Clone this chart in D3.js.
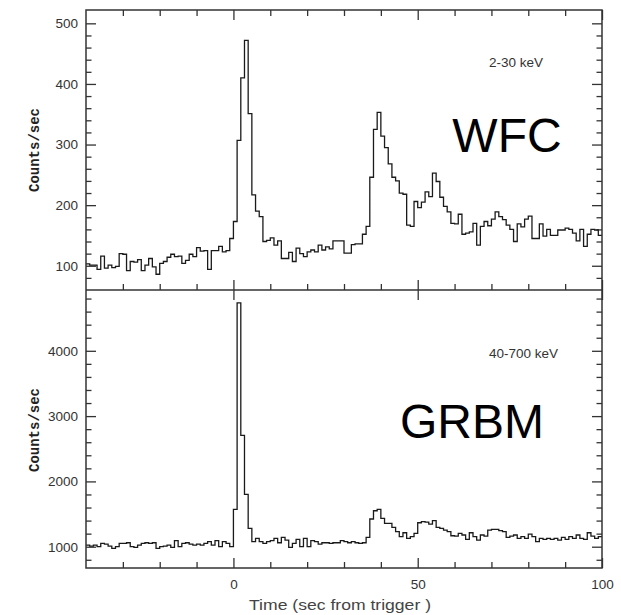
<!DOCTYPE html>
<html><head><meta charset="utf-8">
<script src="https://cdn.jsdelivr.net/npm/d3@7"></script>
<style>body{margin:0;background:#fff}svg{display:block}</style>
</head><body><svg id="c" width="621" height="615"></svg>
<script>
// ---- data ----
const binStart = -40;   // seconds from trigger (first bin)
const binWidth = 1;     // seconds per bin
const wfcCounts = [
  103,101,101,94,116,96,101,97,99,120,
  119,92,107,106,110,92,101,112,98,86,
  104,107,114,119,115,116,104,109,119,115,
  130,124,125,94,125,125,132,123,125,145,
  173,307,410,472,351,217,190,181,140,142,
  146,134,141,112,112,122,107,129,120,115,
  123,126,123,134,126,131,128,141,141,141,
  121,121,135,136,136,152,165,246,325,353,
  314,295,268,246,240,220,218,167,165,206,
  196,205,222,214,253,239,213,198,189,170,
  169,185,152,154,156,170,134,165,173,166,
  177,189,181,176,167,160,140,169,164,177,
  182,145,145,169,149,160,150,150,159,159,
  162,160,154,141,160,132,152,160,159,150
];
const grbmCounts = [
  1025,1010,1025,1000,1051,1041,1010,975,1000,1051,
  1051,1061,1000,990,1025,1051,1061,1051,1061,975,
  1000,1010,1025,990,1092,1000,1051,1061,1041,1025,
  1041,1025,1051,1077,1025,1092,1000,1077,1051,1000,
  1572,4735,2705,1802,1281,1077,1128,1077,1051,1077,
  1092,1128,1061,1143,1102,990,1051,1112,1000,1128,
  1000,1092,1077,1041,1061,1061,1051,1061,1061,1092,
  1077,1061,1077,1061,1051,1061,1143,1424,1551,1572,
  1434,1357,1357,1296,1230,1153,1214,1128,1153,1204,
  1367,1383,1377,1347,1398,1296,1281,1255,1230,1168,
  1163,1204,1179,1112,1214,1153,1102,1179,1163,1255,
  1265,1265,1245,1230,1143,1163,1179,1128,1153,1128,
  1194,1153,1077,1128,1112,1128,1112,1128,1102,1143,
  1112,1153,1128,1179,1128,1112,1214,1163,1128,1153
];
const timeDomain = [-40, 100];
const wfcDomain = [60, 522];
const grbmDomain = [674, 4931];
const xMajorTicks = [0, 50, 100];
const xMinorTicks = [-30, -20, -10, 10, 20, 30, 40, 60, 70, 80, 90];
const wfcMajorTicks = [100, 200, 300, 400, 500];
const wfcMinorTicks = [80, 120, 140, 160, 180, 220, 240, 260, 280, 320, 340, 360, 380, 420, 440, 460, 480];
const grbmMajorTicks = [1000, 2000, 3000, 4000];
const grbmMinorTicks = [800, 1200, 1400, 1600, 1800, 2200, 2400, 2600, 2800, 3200, 3400, 3600, 3800, 4200, 4400, 4600, 4800];
const yTitle = "Counts/sec";
const xTitle = "Time (sec from trigger )";
const bandLabels = ["2-30 keV", "40-700 keV"];
const instrumentLabels = ["WFC", "GRBM"];

// ---- layout ----
const L = 86, R = 602, T = 10, M = 290, B = 568;
const ink = "#333";
const svg = d3.select("#c");
svg.append("rect").attr("width", 621).attr("height", 615).attr("fill", "#fff");

const x = d3.scaleLinear().domain(timeDomain).range([L, R]);
const yTop = d3.scaleLinear().domain(wfcDomain).range([M, T]);
const yBot = d3.scaleLinear().domain(grbmDomain).range([B, M]);

const sans = "'Liberation Sans', Arial, Helvetica, sans-serif";

function styleAxis(g) {
  g.select(".domain").remove();
  g.selectAll(".tick line").attr("stroke", ink).attr("stroke-width", 1.3);
  g.selectAll(".tick text").attr("fill", ink).attr("font-family", sans).attr("font-size", 13.5);
}

function panel(y, major, minor, top, bottom, counts, yTitleY, band, bandY, inst, instX, instY, topMinor) {
  // left
  svg.append("g").attr("transform", `translate(${L},0)`)
    .call(d3.axisLeft(y).tickValues(major).tickSizeInner(-10).tickSizeOuter(0).tickPadding(8).tickFormat(d3.format("d")))
    .call(styleAxis);
  svg.append("g").attr("transform", `translate(${L},0)`)
    .call(d3.axisLeft(y).tickValues(minor).tickSizeInner(-5.5).tickSizeOuter(0).tickFormat(""))
    .call(styleAxis);
  // right
  svg.append("g").attr("transform", `translate(${R},0)`)
    .call(d3.axisRight(y).tickValues(major).tickSizeInner(-10).tickSizeOuter(0).tickFormat(""))
    .call(styleAxis);
  svg.append("g").attr("transform", `translate(${R},0)`)
    .call(d3.axisRight(y).tickValues(minor).tickSizeInner(-5.5).tickSizeOuter(0).tickFormat(""))
    .call(styleAxis);
  // top edge (ticks pointing down)
  svg.append("g").attr("transform", `translate(0,${top})`)
    .call(d3.axisTop(x).tickValues(xMajorTicks).tickSizeInner(-10).tickSizeOuter(0).tickFormat(""))
    .call(styleAxis);
  if (topMinor) {
    svg.append("g").attr("transform", `translate(0,${top})`)
      .call(d3.axisTop(x).tickValues(xMinorTicks).tickSizeInner(-6).tickSizeOuter(0).tickFormat(""))
      .call(styleAxis);
  }
  // bottom edge (ticks pointing up)
  svg.append("g").attr("transform", `translate(0,${bottom})`)
    .call(d3.axisBottom(x).tickValues(xMajorTicks).tickSizeInner(-10).tickSizeOuter(0).tickFormat(""))
    .call(styleAxis);
  svg.append("g").attr("transform", `translate(0,${bottom})`)
    .call(d3.axisBottom(x).tickValues(xMinorTicks).tickSizeInner(-6).tickSizeOuter(0).tickFormat(""))
    .call(styleAxis);

  // histogram
  const pts = counts.map((v, i) => [binStart + i * binWidth, v]);
  pts.push([binStart + counts.length * binWidth, counts[counts.length - 1]]);
  const line = d3.line().x(d => x(d[0])).y(d => y(d[1])).curve(d3.curveStepAfter);
  svg.append("path").attr("d", line(pts)).attr("fill", "none")
    .attr("stroke", "#1a1a1a").attr("stroke-width", 1.3);

  // y title
  svg.append("text").attr("transform", `translate(35,${yTitleY}) rotate(-90)`)
    .attr("text-anchor", "middle").attr("dominant-baseline", "central")
    .attr("font-family", "'Liberation Mono', 'Courier New', monospace").attr("font-weight", "bold")
    .attr("font-size", 14).attr("fill", "#222").text(yTitle);
  // band label
  svg.append("text").attr("x", 489).attr("y", bandY).attr("text-anchor", "start")
    .attr("font-family", sans).attr("font-size", 13.5).attr("fill", ink).text(band);
  // instrument label
  svg.append("text").attr("x", instX).attr("y", instY).attr("text-anchor", "middle")
    .attr("font-family", sans).attr("font-size", 48).attr("fill", "#000").text(inst);
}

panel(yTop, wfcMajorTicks, wfcMinorTicks, T, M, wfcCounts, 150, bandLabels[0], 67, instrumentLabels[0], 507, 152, true);
panel(yBot, grbmMajorTicks, grbmMinorTicks, M, B, grbmCounts, 430, bandLabels[1], 358, instrumentLabels[1], 472, 438, false);

// frames
svg.append("rect").attr("x", L).attr("y", T).attr("width", R - L).attr("height", B - T)
  .attr("fill", "none").attr("stroke", ink).attr("stroke-width", 1.5);
svg.append("line").attr("x1", L).attr("x2", R).attr("y1", M).attr("y2", M)
  .attr("stroke", ink).attr("stroke-width", 1.5);

// x tick labels
svg.append("g").attr("transform", `translate(0,${B})`)
  .call(d3.axisBottom(x).tickValues(xMajorTicks).tickSize(0).tickPadding(11).tickFormat(d3.format("d")))
  .call(styleAxis);
// x title
svg.append("text").attr("x", 340).attr("y", 610).attr("text-anchor", "middle")
  .attr("font-family", sans).attr("font-size", 14.5).attr("fill", "#444")
  .attr("textLength", 182).attr("lengthAdjust", "spacingAndGlyphs").text(xTitle);
</script></body></html>
